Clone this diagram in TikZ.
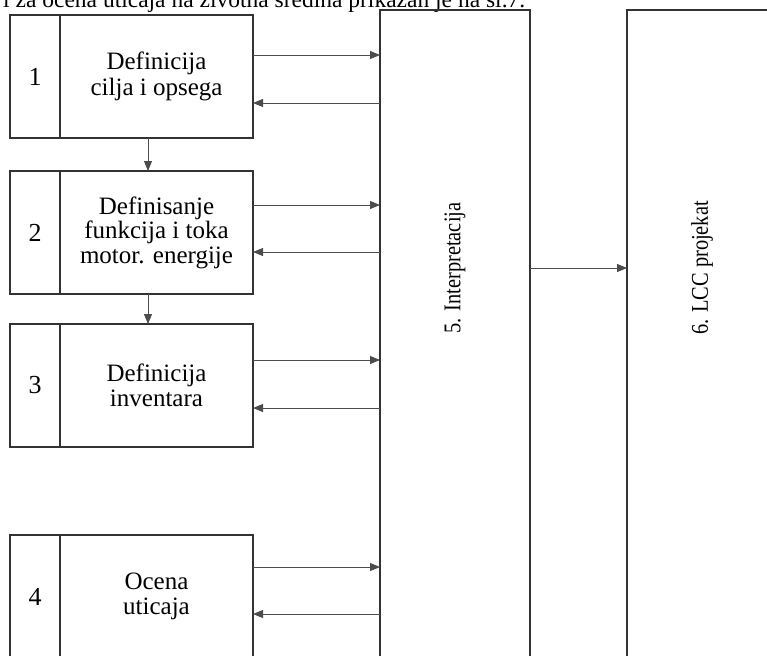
\documentclass[tikz,border=0pt]{standalone}
\usepackage{fontspec}
\setmainfont{Liberation Serif}
\usetikzlibrary{arrows.meta}
\usetikzlibrary{positioning}

\begin{document}
\begin{tikzpicture}[x=1pt,y=-1pt,>={Triangle[length=10pt,width=8pt]},
    line/.style={draw=black!70,line width=0.9pt},
    numbox/.style={draw=black!80,line width=1.5pt,outer sep=0pt,inner sep=0pt,
      minimum width=50pt,minimum height=123pt,font=\fontsize{26}{26}\selectfont},
    stepbox/.style={draw=black!80,line width=1.5pt,outer sep=0pt,inner sep=0pt,
      minimum width=193pt,minimum height=123pt,align=center,font=\fontsize{25}{24.5}\selectfont},
    tallbox/.style={draw=black!80,line width=1.5pt,outer sep=0pt,inner sep=0pt,
      minimum width=150pt,minimum height=720pt},
    vlabel/.style={rotate=90,inner sep=0pt,font=\fontsize{24}{24}\selectfont}]
  \useasboundingbox (0,0) rectangle (767,655);
  \clip (0,0) rectangle (767,655);
  % line of text above the figure
  \node[anchor=base west,inner sep=0pt,font=\fontsize{23.5}{25}\selectfont] (cap) at (3,7.5)
    {i za ocena uticaja na životna sredina prikazan je na sl.7.};
  % steps 1-4
  \node[numbox] (n1) at (35,76.5) {\raisebox{-5pt}{1}};
  \node[stepbox] (b1) [right=0pt of n1] {\raisebox{-5pt}{\shortstack{Definicija\\cilja i opsega}}};
  \node[numbox] (n2) at (35,232.5) {2};
  \node[stepbox] (b2) [right=0pt of n2] {Definisanje\\funkcija i toka\\motor. energije};
  \node[numbox] (n3) at (35,385.5) {3};
  \node[stepbox] (b3) [right=0pt of n3] {Definicija\\inventara};
  \node[numbox] (n4) at (35,596.5) {4};
  \node[stepbox] (b4) [right=0pt of n4] {Ocena\\uticaja};
  % steps 5 and 6
  \node[tallbox] (i5) at (455,370) {};
  \node[tallbox] (p6) at (702,370) {};
  \node[vlabel] (l5) at (455,268) {\scalebox{0.85}[1]{5. Interpretacija}};
  \node[vlabel] (l6) at (702,268) {\scalebox{0.85}[1]{6. LCC projekat}};
  % connectors
  \draw[line,->] ([xshift=-8.5pt]b1.south) -- ([xshift=-8.5pt]b2.north);
  \draw[line,->] ([xshift=-8.5pt]b2.south) -- ([xshift=-8.5pt]b3.north);
  \foreach \b/\o/\i in {b1/21.5/-26.5,b2/27.5/-19.5,b3/25.5/-22.5,b4/29.5/-17.5} {
    \coordinate (o\b) at ([yshift=\o pt]\b.east);
    \coordinate (r\b) at ([yshift=\i pt]\b.east);
    \draw[line,->] (o\b) -- (o\b -| i5.west);
    \draw[line,->] (r\b -| i5.west) -- (r\b);
  }
  \draw[line,->] (i5.east |- l5) -- (p6.west |- l5);
\end{tikzpicture}
\end{document}
